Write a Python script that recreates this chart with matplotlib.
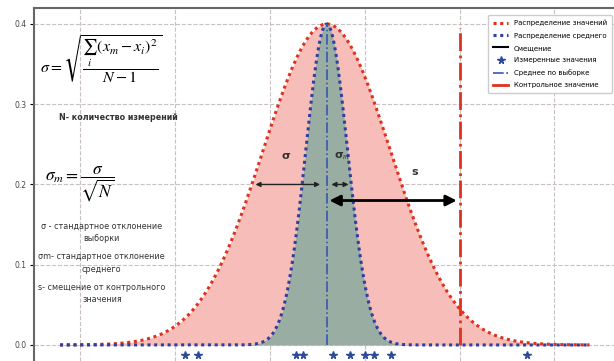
import matplotlib.pyplot as plt
import numpy as np

# данные (единицы оси x = шаг сетки)
mean_x = 2.6
sigma = 0.67
sigma_m = 0.22
control_x = 4.0
peak = 0.4
x_start, x_end = -0.21, 5.37
measured = [1.11, 1.24, 2.28, 2.35, 2.67, 2.85, 3.00, 3.10, 3.28, 4.71]
y_ticks = [0.0, 0.1, 0.2, 0.3, 0.4]
x_grid = [0, 1, 2, 3, 4, 5]

x = np.linspace(x_start, x_end, 400)
y_val = peak * np.exp(-0.5 * ((x - mean_x) / sigma) ** 2)
y_mean = peak * np.exp(-0.5 * ((x - mean_x) / sigma_m) ** 2)

plt.rcParams['mathtext.fontset'] = 'stix'
fig = plt.figure(figsize=(6.14, 3.61), dpi=100)
ax = fig.add_axes([0.055, 0.0, 0.95, 0.978])

ax.fill_between(x, 0, y_val, color='#f7bdb8', lw=0)
ax.fill_between(x, 0, y_mean, color='#9aada2', lw=0)
ax.plot(x, y_val, color='#e0301e', lw=2.2, ls=(0, (1, 1.2)), label='Распределение значений')
ax.plot(x, y_mean, color='#2e3f9e', lw=2.2, ls=(0, (1, 1.2)), label='Распределение среднего')
ax.plot([], [], color='black', lw=1.5, label='Смещение')
ax.plot(measured, [-0.012] * len(measured), ls='none', marker='*', ms=5.5,
        color='#2b4a9a', label='Измеренные значения')
ax.plot([mean_x, mean_x], [0, peak], color='#3557b5', lw=1.2, ls='-.', label='Среднее по выборке')
ax.plot([control_x, control_x], [0, 0.395], color='#e0301e', lw=2, ls='-.')
ax.plot([], [], color='#e0301e', lw=2, label='Контрольное значение')

# стрелки
ax.annotate('', xy=(mean_x - 0.78, 0.2), xytext=(mean_x - 0.04, 0.2),
            arrowprops=dict(arrowstyle='<|-|>', color='#222222', lw=1, mutation_scale=7))
ax.annotate('', xy=(mean_x + 0.02, 0.2), xytext=(mean_x + 0.26, 0.2),
            arrowprops=dict(arrowstyle='<|-|>', color='#222222', lw=1, mutation_scale=7))
ax.annotate('', xy=(mean_x, 0.18), xytext=(control_x, 0.18),
            arrowprops=dict(arrowstyle='<|-|>', color='black', lw=2, mutation_scale=16))
ax.text(2.17, 0.235, 'σ', fontsize=8, fontweight='bold', ha='center', va='center', color='#333333')
ax.text(2.76, 0.235, r'σ$_m$', fontsize=8, fontweight='bold', ha='center', va='center', color='#333333')
ax.text(3.53, 0.215, 's', fontsize=8, fontweight='bold', ha='center', va='center', color='#333333')

# формулы и пояснения
ax.text(0.22, 0.355, r'$\sigma=\sqrt{\dfrac{\sum_i\,(x_m-x_i)^2}{N-1}}$', fontsize=11.5,
        ha='center', va='center')
ax.text(0.40, 0.283, 'N- количество измерений', fontsize=5.8, fontweight='bold',
        ha='center', va='center', color='#333333')
ax.text(0.0, 0.2, r'$\sigma_m=\dfrac{\sigma}{\sqrt{N}}$', fontsize=12.5, ha='center', va='center')
notes = ['σ - стандартное отклонение\nвыборки',
         'σm- стандартное отклонение\nсреднего',
         's- смещение от контрольного\nзначения']
for i, t in enumerate(notes):
    ax.text(0.23, 0.14 - i * 0.038, t, fontsize=5.8, ha='center', va='center',
            multialignment='center', color='#333333', linespacing=1.5)

ax.set_xlim(-0.487, 5.66)
ax.set_ylim(-0.02, 0.42)
ax.set_yticks(y_ticks)
ax.set_yticklabels(['0.0', '0.1', '0.2', '0.3', '0.4'], fontsize=5.5, color='#444444')
ax.set_xticks(x_grid)
ax.set_xticklabels([])
ax.tick_params(axis='x', length=0)
ax.tick_params(axis='y', length=3, width=0.8, pad=2)
ax.grid(True, ls='--', color='#c9c0c0', lw=0.8)
ax.set_axisbelow(True)
for s in ax.spines.values():
    s.set_color('#666666')
    s.set_linewidth(1.5)
ax.spines['bottom'].set_visible(False)

ax.legend(loc='upper right', bbox_to_anchor=(0.997, 0.99), fontsize=5, handlelength=2.2,
          labelspacing=0.9, framealpha=1, edgecolor='#cccccc', borderpad=0.7)

plt.savefig('out.png', dpi=100)
